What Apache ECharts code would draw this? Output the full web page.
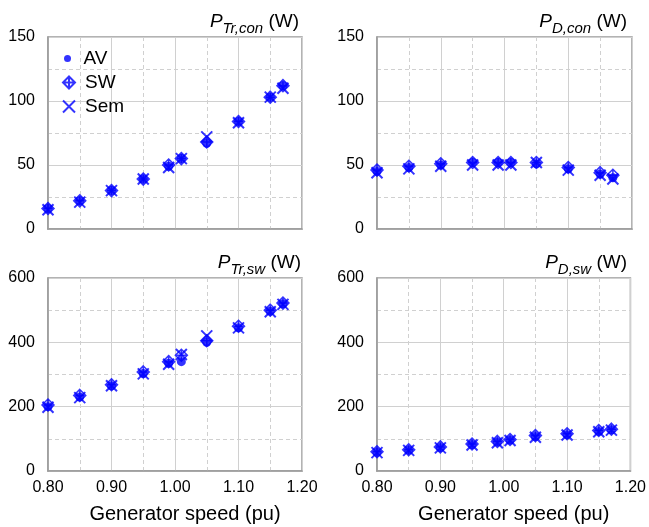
<!DOCTYPE html>
<html><head><meta charset="utf-8">
<script src="https://cdn.jsdelivr.net/npm/echarts@6/dist/echarts.min.js"></script>
<style>html,body{margin:0;padding:0;background:#fff}#c{width:649px;height:527px}</style>
</head><body><div id="c"></div>
<script>
// Generator speed (pu)
const speed = [0.80, 0.85, 0.90, 0.95, 0.99, 1.01, 1.05, 1.10, 1.15, 1.17];
// P_Tr,con (W)
const trConAV  = [16, 22, 30, 39, 49, 55, 67, 84, 103, 112];
const trConSW  = [16, 22, 30, 39, 50, 55, 68, 84, 103, 112];
const trConSem = [15, 21, 30, 39, 48, 55, 72, 83, 103, 110];
// P_D,con (W)
const dConAV  = [45, 48, 50, 52, 52, 52, 51, 47, 43, 40];
const dConSW  = [46, 49, 51, 52, 52, 52, 52, 48, 44, 42];
const dConSem = [44, 47, 49, 50, 50, 50, 52, 46, 42, 39];
// P_Tr,sw (W)
const trSwAV  = [200, 230, 265, 303, 335, 340, 400, 445, 497, 520];
const trSwSW  = [205, 235, 268, 308, 340, 360, 405, 450, 500, 522];
const trSwSem = [198, 228, 265, 302, 332, 362, 420, 445, 495, 518];
// P_D,sw (W)
const dSwAV  = [58, 65, 73, 82, 90, 96, 107, 113, 123, 128];
const dSwSW  = [60, 66, 75, 84, 92, 98, 110, 116, 126, 130];
const dSwSem = [57, 64, 72, 81, 88, 95, 105, 112, 122, 127];

const panelTitles = [['Tr,con'], ['D,con'], ['Tr,sw'], ['D,sw']];
const xTicks = [0.8, 1.2, 0.1];
const yTopTicks = [0, 150, 50];
const yBotTicks = [0, 600, 200];
const xName = 'Generator speed (pu)';

const BLUE = '#0000ff';
const xPath = 'path://M0,0L10,10M10,0L0,10';
const swPath = 'path://M5,0L10,5L5,10L0,5ZM5,0L5,10M0,5L10,5';

const grids = [
  {left: 48, top: 37, width: 254, height: 192},
  {left: 377, top: 37, width: 255, height: 192},
  {left: 48, top: 278, width: 254, height: 193},
  {left: 377, top: 278, width: 255, height: 193}
];
const panelData = [
  [trConAV, trConSW, trConSem],
  [dConAV, dConSW, dConSem],
  [trSwAV, trSwSW, trSwSem],
  [dSwAV, dSwSW, dSwSem]
];

function pairs(ys) { return speed.map((x, i) => [x, ys[i]]); }

const gridOpts = grids.map(g => Object.assign({show: true, borderColor: '#9a9a9a', borderWidth: 1.5, backgroundColor: 'transparent'}, g));

const xAxes = grids.map((g, i) => ({
  type: 'value', gridIndex: i, min: xTicks[0], max: xTicks[1], interval: xTicks[2],
  axisLine: {show: true, lineStyle: {color: '#9a9a9a', width: 1.5}},
  axisTick: {show: false},
  axisLabel: {show: i >= 2, margin: 9, fontSize: 16, color: '#000', fontFamily: 'Liberation Sans',
    formatter: v => v.toFixed(2)},
  splitLine: {show: true, lineStyle: {color: '#d0d0d0', width: 1}},
  minorTick: {show: false, splitNumber: 2},
  minorSplitLine: {show: true, lineStyle: {color: '#d0d0d0', type: [4, 3], width: 1}},
  name: i >= 2 ? xName : '', nameLocation: 'middle', nameGap: 33,
  nameTextStyle: {fontSize: 20, color: '#000', fontFamily: 'Liberation Sans', padding: [0, 0, 0, 20]}
}));

const yAxes = grids.map((g, i) => {
  const t = i < 2 ? yTopTicks : yBotTicks;
  return {
    type: 'value', gridIndex: i, min: t[0], max: t[1], interval: t[2],
    axisLine: {show: true, lineStyle: {color: '#9a9a9a', width: 1.5}},
    axisTick: {show: false},
    axisLabel: {margin: 13, fontSize: 16, color: '#000', fontFamily: 'Liberation Sans'},
    splitLine: {show: true, lineStyle: {color: '#d0d0d0', width: 1}},
    minorTick: {show: false, splitNumber: 2},
    minorSplitLine: {show: true, lineStyle: {color: '#d0d0d0', type: [4, 3], width: 1}}
  };
});

const series = [];
panelData.forEach((d, i) => {
  series.push({
    name: 'Sem', type: 'scatter', xAxisIndex: i, yAxisIndex: i, data: pairs(d[2]),
    symbol: xPath, symbolSize: 11,
    itemStyle: {color: 'rgba(0,0,0,0)', borderColor: BLUE, borderWidth: 2}
  });
  series.push({
    name: 'SW', type: 'scatter', xAxisIndex: i, yAxisIndex: i, data: pairs(d[1]),
    symbol: swPath, symbolSize: 12,
    itemStyle: {color: 'rgba(0,0,0,0)', borderColor: BLUE, borderWidth: 1.5}
  });
  series.push({
    name: 'AV', type: 'scatter', xAxisIndex: i, yAxisIndex: i, data: pairs(d[0]),
    symbol: 'circle', symbolSize: 9,
    itemStyle: {color: BLUE}
  });
});

const rich = {
  p: {fontSize: 19, fontStyle: 'italic', fontWeight: 'normal', color: '#000', fontFamily: 'Liberation Sans', lineHeight: 22, verticalAlign: 'top'},
  s: {fontSize: 15, fontStyle: 'italic', fontWeight: 'normal', color: '#000', fontFamily: 'Liberation Sans', lineHeight: 15, verticalAlign: 'top', padding: [9, 0, 0, 0]},
  w: {fontSize: 19, fontWeight: 'normal', color: '#000', fontFamily: 'Liberation Sans', lineHeight: 22, verticalAlign: 'top'}
};
const titlePos = [{right: 350, top: 12}, {right: 22, top: 12}, {right: 348, top: 253}, {right: 22, top: 253}];
const titles = panelTitles.map((t, i) => Object.assign({
  text: '{p|P}{s|' + t[0] + '}{w| (W)}', padding: 0,
  textStyle: {fontWeight: 'normal', rich: rich}
}, titlePos[i]));

const legendBase = {orient: 'vertical', itemWidth: 22, padding: 0, selectedMode: false,
  textStyle: {fontSize: 19, color: '#000', fontFamily: 'Liberation Sans'}};
const legends = [
  Object.assign({}, legendBase, {data: ['AV'], left: 64, top: 49, itemHeight: 7}),
  Object.assign({}, legendBase, {data: ['SW'], left: 62, top: 73, itemHeight: 12}),
  Object.assign({}, legendBase, {data: ['Sem'], left: 62, top: 97, itemHeight: 12})
];

const chart = echarts.init(document.getElementById('c'), null, {renderer: 'canvas'});
chart.setOption({
  animation: false,
  backgroundColor: '#fff',
  title: titles,
  legend: legends,
  grid: gridOpts,
  xAxis: xAxes,
  yAxis: yAxes,
  series: series
});
</script>
</body></html>
